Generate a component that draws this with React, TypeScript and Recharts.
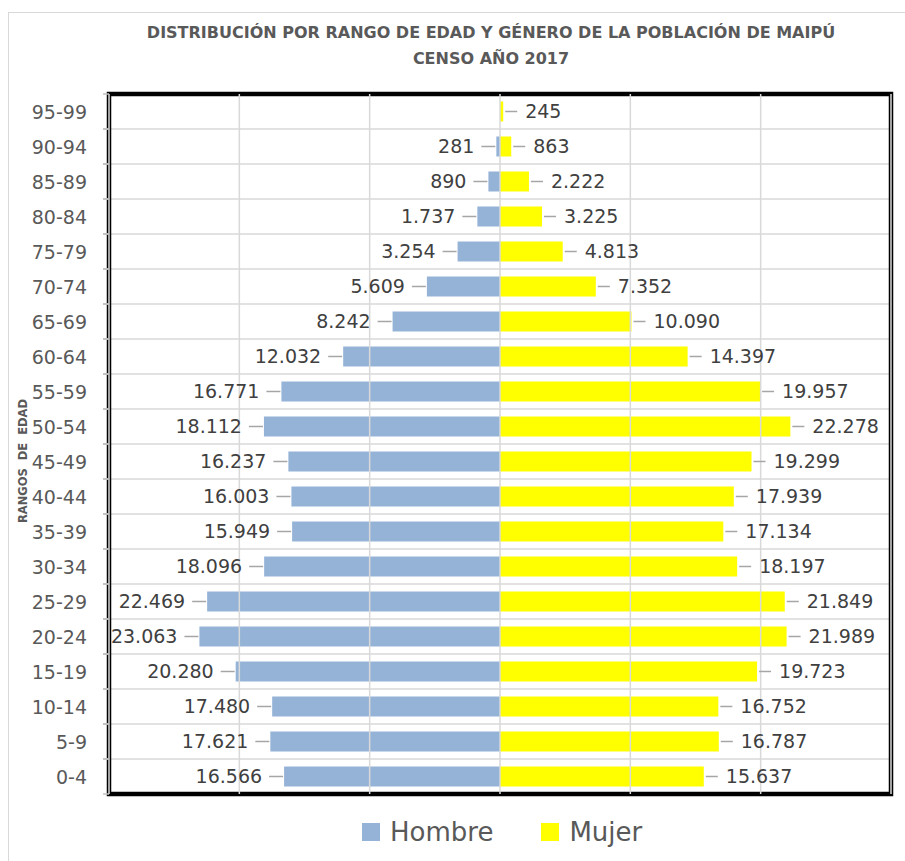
import React from 'react';
import { BarChart, Bar, XAxis, YAxis, CartesianGrid, LabelList, Legend, ReferenceArea, ReferenceLine } from 'recharts';

// age groups, bottom to top
const ageGroups = [
  '0-4', '5-9', '10-14', '15-19', '20-24', '25-29', '30-34', '35-39', '40-44', '45-49',
  '50-54', '55-59', '60-64', '65-69', '70-74', '75-79', '80-84', '85-89', '90-94', '95-99',
];
const hombre = [
  16566, 17621, 17480, 20280, 23063, 22469, 18096, 15949, 16003, 16237,
  18112, 16771, 12032, 8242, 5609, 3254, 1737, 890, 281, null,
];
const mujer = [
  15637, 16787, 16752, 19723, 21989, 21849, 18197, 17134, 17939, 19299,
  22278, 19957, 14397, 10090, 7352, 4813, 3225, 2222, 863, 245,
];
const xTicks = [-30000, -20000, -10000, 0, 10000, 20000, 30000];

const rows = ageGroups.map((age, i) => ({
  age,
  Hombre: hombre[i] == null ? null : -(hombre[i] as number),
  Mujer: mujer[i],
}));

const CW = 905;
const CH = 861;
const M = { top: 94, right: 14, bottom: 67, left: 9 };
const BAND = (CH - M.top - M.bottom) / ageGroups.length;

const FONT = '"DejaVu Sans", sans-serif';
const GRID = '#d9d9d9';

// 16566 -> "16.566"
const fmt = (v: number) => String(Math.abs(Math.round(v))).replace(/\B(?=(\d{3})+(?!\d))/g, '.');

const AgeTick = (props: any) => {
  const { x, y, payload } = props;
  return (
    <g>
      <line x1={x - 6} x2={x} y1={y + BAND / 2} y2={y + BAND / 2} stroke="#bfbfbf" strokeWidth={1.5} />
      <line x1={x - 6} x2={x} y1={y - BAND / 2} y2={y - BAND / 2} stroke="#bfbfbf" strokeWidth={1.5} />
      <text x={x - 22} y={y} textAnchor="end" dominantBaseline="central" fill="#595959" fontSize={19} fontFamily={FONT}>
        {payload.value}
      </text>
    </g>
  );
};

const makeLabel = (side: 'left' | 'right') => (props: any) => {
  const { x, y, width, height, value } = props;
  if (value == null) return null;
  const cy = y + height / 2;
  const a = x;
  const b = x + width;
  if (side === 'left') {
    const end = Math.min(a, b);
    return (
      <g>
        <line x1={end - 15} x2={end - 1} y1={cy} y2={cy} stroke="#a6a6a6" strokeWidth={1.5} />
        <text x={end - 22} y={cy} textAnchor="end" dominantBaseline="central" fill="#404040" fontSize={19} fontFamily={FONT}>
          {fmt(value)}
        </text>
      </g>
    );
  }
  const end = Math.max(a, b);
  return (
    <g>
      <line x1={end + 2} x2={end + 14} y1={cy} y2={cy} stroke="#a6a6a6" strokeWidth={1.5} />
      <text x={end + 22} y={cy} textAnchor="start" dominantBaseline="central" fill="#404040" fontSize={19} fontFamily={FONT}>
        {fmt(value)}
      </text>
    </g>
  );
};

const LegendBox = (props: any) => (
  <div style={{ display: 'flex', alignItems: 'center', fontFamily: FONT }}>
    {(props.payload || []).map((p: any, i: number) => (
      <div key={p.value} style={{ display: 'flex', alignItems: 'center', marginRight: i === 0 ? 48 : 0 }}>
        <span style={{ width: 18, height: 18, background: p.color, display: 'inline-block', marginRight: 10 }} />
        <span style={{ fontSize: 26, color: '#595959', lineHeight: '30px' }}>{p.value}</span>
      </div>
    ))}
  </div>
);

export default function App() {
  return (
    <div style={{ position: 'absolute', left: 0, top: 0, width: CW, height: CH, overflow: 'hidden', background: '#fff', fontFamily: FONT }}>
      <div style={{ position: 'absolute', left: 8, top: 12, width: 940, height: 900, border: '1px solid #d9d9d9' }} />
      <div
        style={{
          position: 'absolute', left: 91, top: 20, width: 800, textAlign: 'center',
          fontWeight: 'bold', fontSize: 16, lineHeight: '26px', color: '#595959',
        }}
      >
        <div>DISTRIBUCIÓN POR RANGO DE EDAD Y GÉNERO DE LA POBLACIÓN DE MAIPÚ</div>
        <div>CENSO AÑO 2017</div>
      </div>
      <div
        style={{
          position: 'absolute', left: 23, top: 461, transform: 'translate(-50%, -50%) rotate(-90deg)',
          whiteSpace: 'pre', fontWeight: 'bold', fontSize: 11.5, color: '#595959',
        }}
      >
        RANGOS  DE  EDAD
      </div>
      <div style={{ position: 'absolute', left: 0, top: 0 }}>
        <BarChart
          width={CW}
          height={CH}
          data={rows}
          layout="vertical"
          stackOffset="sign"
          barCategoryGap="21.4%"
          margin={M}
        >
          <CartesianGrid
            vertical={false}
            stroke={GRID}
            strokeWidth={1.5}
            horizontalCoordinatesGenerator={(p: any) =>
              ageGroups.map((_, i) => p.offset.top + i * (p.offset.height / ageGroups.length)).concat(p.offset.top + p.offset.height)
            }
          />
          {xTicks.map((t) => (
            <ReferenceLine key={t} x={t} stroke={GRID} strokeWidth={1.5} />
          ))}
          <XAxis type="number" domain={[-30000, 30000]} ticks={xTicks} hide />
          <YAxis
            type="category"
            dataKey="age"
            reversed
            width={100}
            axisLine={false}
            tickLine={false}
            tickSize={0}
            tickMargin={0}
            interval={0}
            tick={<AgeTick />}
          />
          <Bar dataKey="Hombre" stackId="p" fill="#95b3d7" isAnimationActive={false}>
            <LabelList dataKey="Hombre" content={makeLabel('left')} />
          </Bar>
          <Bar dataKey="Mujer" stackId="p" fill="#ffff00" isAnimationActive={false}>
            <LabelList dataKey="Mujer" content={makeLabel('right')} />
          </Bar>
          <ReferenceArea x1={-30000} x2={30000} fill="none" stroke="#000" strokeWidth={4.5} />
          <Legend
            layout="horizontal"
            verticalAlign="middle"
            align="center"
            content={<LegendBox />}
            wrapperStyle={{ position: 'absolute', left: 362, top: 817, width: 'auto' }}
          />
        </BarChart>
      </div>
    </div>
  );
}
